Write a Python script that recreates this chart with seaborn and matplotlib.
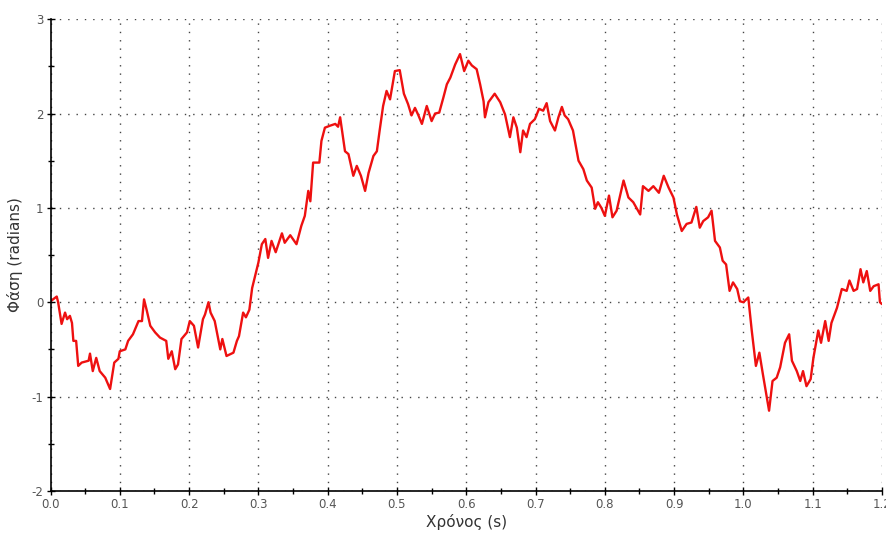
import matplotlib
matplotlib.use('Agg')
import matplotlib.pyplot as plt
from matplotlib.ticker import MultipleLocator, FormatStrFormatter
import pandas as pd
import seaborn as sns

# values
time_s = [
    0.000, 0.009, 0.011, 0.016, 0.021, 0.024, 0.028, 0.031, 0.033, 0.037,
    0.040, 0.045, 0.055, 0.057, 0.061, 0.066, 0.071, 0.079, 0.086, 0.092,
    0.098, 0.100, 0.108, 0.112, 0.119, 0.127, 0.132, 0.135, 0.139, 0.144,
    0.151, 0.158, 0.167, 0.170, 0.175, 0.180, 0.184, 0.189, 0.197, 0.201,
    0.207, 0.213, 0.220, 0.223, 0.228, 0.231, 0.237, 0.245, 0.248, 0.254,
    0.264, 0.269, 0.272, 0.278, 0.282, 0.287, 0.291, 0.296, 0.300, 0.305,
    0.310, 0.314, 0.319, 0.325, 0.334, 0.338, 0.346, 0.355, 0.362, 0.367,
    0.372, 0.375, 0.379, 0.388, 0.391, 0.396, 0.403, 0.411, 0.415, 0.418,
    0.425, 0.430, 0.437, 0.442, 0.448, 0.454, 0.459, 0.466, 0.471, 0.475,
    0.480, 0.485, 0.490, 0.497, 0.504, 0.510, 0.516, 0.521, 0.526, 0.531,
    0.536, 0.543, 0.550, 0.555, 0.561, 0.567, 0.572, 0.577, 0.584, 0.591,
    0.597, 0.603, 0.608, 0.615, 0.620, 0.625, 0.627, 0.632, 0.641, 0.649,
    0.656, 0.663, 0.668, 0.673, 0.678, 0.682, 0.687, 0.692, 0.699, 0.705,
    0.711, 0.716, 0.721, 0.728, 0.733, 0.738, 0.742, 0.747, 0.754, 0.762,
    0.769, 0.774, 0.781, 0.786, 0.790, 0.795, 0.800, 0.806, 0.811, 0.817,
    0.822, 0.827, 0.834, 0.841, 0.851, 0.855, 0.863, 0.870, 0.878, 0.885,
    0.892, 0.899, 0.904, 0.911, 0.918, 0.925, 0.932, 0.937, 0.942, 0.949,
    0.954, 0.959, 0.966, 0.970, 0.975, 0.980, 0.985, 0.991, 0.995, 1.000,
    1.007, 1.012, 1.018, 1.023, 1.028, 1.033, 1.037, 1.042, 1.048, 1.053,
    1.060, 1.066, 1.070, 1.077, 1.082, 1.086, 1.091, 1.097, 1.101, 1.108,
    1.112, 1.118, 1.123, 1.127, 1.135, 1.142, 1.149, 1.153, 1.159, 1.164,
    1.169, 1.173, 1.178, 1.183, 1.188, 1.195, 1.197, 1.200,
]
phase_rad = [
    0.01, 0.06, 0.00, -0.23, -0.11, -0.18, -0.145, -0.22, -0.41, -0.41,
    -0.675, -0.64, -0.62, -0.545, -0.73, -0.59, -0.73, -0.80, -0.92, -0.64,
    -0.60, -0.52, -0.50, -0.41, -0.34, -0.20, -0.20, 0.03, -0.09, -0.25,
    -0.32, -0.375, -0.41, -0.60, -0.52, -0.71, -0.66, -0.39, -0.32, -0.20,
    -0.25, -0.48, -0.18, -0.13, 0.00, -0.11, -0.20, -0.50, -0.39, -0.57,
    -0.535, -0.41, -0.36, -0.11, -0.16, -0.08, 0.15, 0.30, 0.42, 0.615,
    0.67, 0.47, 0.65, 0.53, 0.73, 0.63, 0.71, 0.615, 0.81, 0.915,
    1.18, 1.07, 1.48, 1.48, 1.71, 1.85, 1.87, 1.89, 1.86, 1.96,
    1.60, 1.57, 1.34, 1.445, 1.34, 1.18, 1.37, 1.55, 1.60, 1.82,
    2.08, 2.24, 2.15, 2.45, 2.46, 2.21, 2.10, 1.98, 2.06, 1.98,
    1.89, 2.08, 1.92, 2.00, 2.01, 2.17, 2.31, 2.38, 2.52, 2.63,
    2.45, 2.56, 2.51, 2.47, 2.31, 2.13, 1.96, 2.12, 2.21, 2.12,
    1.99, 1.75, 1.96, 1.85, 1.59, 1.82, 1.75, 1.89, 1.94, 2.05,
    2.03, 2.11, 1.92, 1.82, 1.96, 2.07, 1.98, 1.94, 1.82, 1.50,
    1.41, 1.29, 1.215, 0.99, 1.06, 1.00, 0.915, 1.13, 0.90, 0.97,
    1.13, 1.29, 1.11, 1.06, 0.93, 1.23, 1.18, 1.23, 1.16, 1.34,
    1.215, 1.11, 0.93, 0.755, 0.83, 0.845, 1.01, 0.79, 0.86, 0.90,
    0.97, 0.65, 0.58, 0.44, 0.40, 0.12, 0.21, 0.14, 0.01, 0.00,
    0.05, -0.30, -0.675, -0.535, -0.76, -0.975, -1.15, -0.835, -0.80, -0.69,
    -0.43, -0.34, -0.62, -0.73, -0.835, -0.73, -0.89, -0.815, -0.59, -0.30,
    -0.43, -0.20, -0.41, -0.22, -0.06, 0.14, 0.12, 0.23, 0.12, 0.14,
    0.35, 0.21, 0.33, 0.12, 0.17, 0.19, 0.00, -0.02,
]

df = pd.DataFrame({'t': time_s, 'phase': phase_rad})

sns.set_style('ticks')
plt.rcParams['font.family'] = ['DejaVu Sans']

fig = plt.figure(figsize=(8.86, 5.33), dpi=100)
ax = fig.add_axes([0.057, 0.079, 0.9385, 0.885])

sns.lineplot(data=df, x='t', y='phase', ax=ax, color='#ee1010',
             linewidth=1.7, estimator=None, sort=False)

ax.set_xlim(0, 1.2)
ax.set_ylim(-2, 3)
ax.xaxis.set_major_locator(MultipleLocator(0.1))
ax.xaxis.set_minor_locator(MultipleLocator(0.05))
ax.yaxis.set_major_locator(MultipleLocator(1))
ax.yaxis.set_minor_locator(MultipleLocator(0.5))
ax.xaxis.set_major_formatter(FormatStrFormatter('%.1f'))
ax.yaxis.set_major_formatter(FormatStrFormatter('%d'))

# dotted grid on the major ticks only
ax.grid(which='major', linestyle=(0, (1, 5)), color='#444444', linewidth=1.0)
ax.tick_params(which='both', direction='inout', color='black', width=1,
               labelsize=8.5, labelcolor='#555555', pad=2)
ax.tick_params(which='major', length=6)
ax.tick_params(which='minor', length=5)
for s in ['top', 'right']:
    ax.spines[s].set_visible(False)
for s in ['left', 'bottom']:
    ax.spines[s].set_color('black')
    ax.spines[s].set_linewidth(1.2)

ax.set_xlabel('Χρόνος (s)', fontsize=11, color='#333333', labelpad=2)
ax.set_ylabel('Φάση (radians)', fontsize=11, color='#333333', labelpad=6)

fig.savefig('out.png', dpi=100)
